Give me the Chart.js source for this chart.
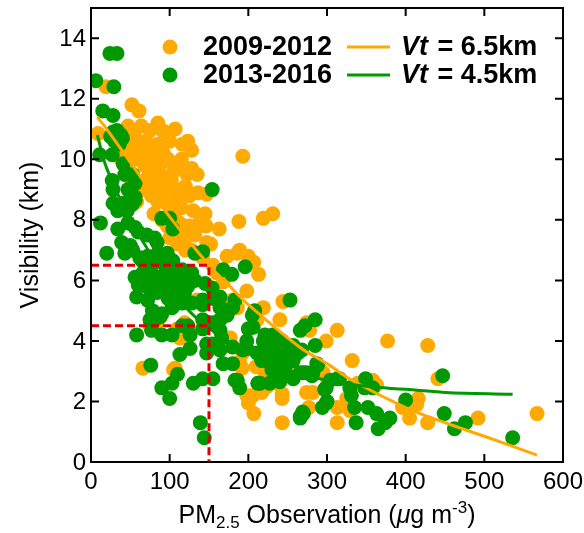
<!DOCTYPE html>
<html>
<head>
<meta charset="utf-8">
<script src="https://cdn.jsdelivr.net/npm/chart.js@4.4.0/dist/chart.umd.min.js"></script>
<style>
  body { margin: 0; background: #fff; }
  #wrap { width: 584px; height: 533px; }
</style>
</head>
<body>
<div id="wrap"><canvas id="chart" width="584" height="533"></canvas></div>
<script>
// 2009-2012 observations (PM2.5, visibility)
const pmOld = [9, 19, 52, 61, 47, 75, 91, 116, 123, 128, 110, 122, 193, 136, 147, 145, 146, 163, 188, 219,
  231, 147, 152, 189, 142, 110, 119, 128, 173, 186, 200, 207, 213, 155, 160, 168, 198, 180, 186, 219,
  244, 240, 211, 177, 180, 193, 189, 192, 210, 220, 198, 206, 200, 207, 217, 243, 243, 243, 224, 236,
  257, 274, 282, 277, 274, 278, 299, 313, 377, 428, 332, 291, 295, 301, 339, 358, 363, 325, 313, 329,
  313, 396, 405, 416, 414, 441, 428, 492, 567, 66, 107, 113, 113, 135, 104, 75, 84, 110, 119, 117, 105,
  40, 48, 55, 62, 70, 78, 85, 92, 60, 68, 75, 82, 90, 98, 105, 72, 80, 88, 95, 102,
  110, 65, 77, 85, 92, 100, 108, 115, 120, 125, 130, 80, 90, 97, 105, 112, 118, 125, 132, 138,
  100, 110, 120, 45, 52, 58, 50, 38, 135, 128, 115, 100, 107, 64, 85];
const visOld = [10.85, 12.4, 11.8, 11.6, 11.1, 10.95, 10.95, 10.5, 10.6, 10.3, 9.85, 9.5, 10.1, 8.9, 8.85, 8.2, 7.8, 7.7, 7.95, 8.05,
  8.2, 7.25, 7.2, 7.0, 6.75, 7.4, 7.1, 7.0, 6.8, 6.9, 6.8, 6.6, 6.2, 6.5, 6.25, 5.95, 5.65, 5.35, 5.1, 5.1,
  5.3, 4.7, 4.7, 4.1, 3.8, 3.6, 3.3, 3.1, 3.15, 3.0, 2.2, 2.2, 1.95, 1.6, 2.3, 2.25, 2.1, 1.3, 2.5, 2.6,
  3.05, 2.3, 2.3, 1.8, 4.6, 4.35, 4.0, 4.35, 4.0, 3.85, 3.35, 3.05, 2.95, 2.7, 2.6, 2.7, 2.55, 2.1, 1.8, 1.7,
  1.3, 1.8, 1.45, 2.1, 1.9, 2.75, 1.3, 1.45, 1.6, 3.1, 3.1, 4.3, 4.1, 5.35, 5.5, 4.5, 4.6, 4.4, 4.6, 4.25, 3.05,
  10.7, 10.5, 10.8, 10.4, 10.6, 10.3, 10.5, 10.2, 10.0, 9.8, 10.1, 9.7, 9.9, 10.0, 9.6, 9.4, 9.2, 9.5, 9.1, 9.3,
  9.0, 9.0, 8.8, 8.6, 8.9, 8.5, 8.7, 8.4, 9.1, 8.8, 8.3, 8.2, 8.0, 7.8, 8.1, 7.9, 7.6, 7.8, 7.5, 7.9,
  7.4, 7.2, 7.0, 9.6, 9.2, 8.6, 10.2, 10.0, 9.5, 9.7, 10.0, 10.6, 11.0, 11.1, 11.2];

// 2013-2016 observations
const pmNew = [24, 33, 6, 29, 15, 28, 28, 33, 38, 30, 36, 40, 25, 11, 27, 41, 53, 56, 27, 43, 154,
  28, 47, 56, 28, 34, 46, 52, 41, 56, 12, 34, 47, 56, 90, 100, 104, 60, 71, 81, 84, 39, 50, 20,
  43, 53, 62, 72, 85, 97, 104, 65, 78, 90, 103, 116, 128, 132, 142, 56, 66, 78, 88, 98, 109, 119, 132,
  60, 71, 79, 94, 103, 116, 123, 58, 72, 84, 98, 107, 119, 78, 90, 103, 116, 128,
  58, 75, 88, 77, 90, 103, 123, 126, 116, 142, 81, 113, 126, 76, 110, 103, 90, 100, 130, 142, 155,
  139, 144, 147, 154, 145, 154, 142, 142, 142, 164, 164, 173, 180, 183, 155, 168, 179, 196,
  164, 166, 155, 164, 173, 155, 168, 180, 147, 164, 180, 183, 189, 198, 200, 206, 208, 205, 253,
  215, 227, 240, 236, 249, 257, 263, 266, 269, 274, 281, 287, 285, 266, 272, 285, 297, 300, 294,
  224, 231, 240, 221, 219, 243, 236, 215, 224, 231, 198, 193, 249, 257, 268, 211, 217, 227, 240, 249,
  230, 238, 246, 266, 282, 288, 304, 313, 186, 212, 316, 349, 329, 348, 358, 331, 299, 400, 447,
  299, 335, 352, 363, 449, 462, 476, 337, 365, 374, 380, 270, 266, 536, 257, 270];
const visNew = [13.5, 13.5, 12.6, 12.4, 11.6, 11.45, 10.9, 10.95, 10.8, 10.6, 10.5, 10.7, 10.75, 10.15, 10.15, 9.85, 9.5, 9.2, 9.3, 9.5, 9.0,
  9.0, 9.0, 8.75, 8.55, 8.3, 8.3, 8.5, 8.55, 8.65, 7.9, 7.7, 7.9, 7.75, 8.05, 8.05, 7.7, 7.6, 7.5, 7.4, 7.25, 7.25, 7.15, 6.9,
  6.9, 7.0, 6.75, 6.8, 6.9, 6.9, 6.65, 6.65, 6.55, 6.65, 6.45, 6.35, 6.25, 6.9, 6.95, 6.1, 6.25, 6.2, 6.1, 6.35, 6.05, 6.2, 6.0,
  5.85, 5.8, 5.9, 5.85, 6.0, 5.9, 5.8, 5.45, 5.35, 5.6, 5.4, 5.6, 5.6, 5.0, 4.9, 5.1, 5.25, 5.25,
  4.2, 4.7, 4.8, 4.35, 4.2, 4.2, 4.5, 4.2, 4.5, 4.4, 4.7, 3.55, 3.75, 3.2, 2.9, 2.6, 2.45, 2.1, 2.6, 2.75, 2.75,
  1.3, 0.8, 3.6, 3.9, 5.9, 5.75, 5.35, 5.2, 4.7, 5.45, 5.1, 5.0, 5.1, 5.35, 5.4, 6.35, 6.2, 6.45,
  4.35, 4.1, 4.6, 4.7, 4.85, 3.8, 3.25, 3.25, 3.9, 3.7, 3.8, 2.7, 2.45, 4.0, 4.4, 4.45, 5.0, 4.85, 5.35,
  2.6, 2.6, 2.65, 3.05, 3.25, 3.35, 3.6, 1.5, 1.65, 2.95, 2.85, 3.25, 3.85, 4.35, 4.5, 4.7, 2.4, 2.0, 1.8,
  4.0, 4.2, 4.0, 4.2, 4.0, 4.0, 3.7, 3.6, 3.55, 3.35, 3.75, 3.7, 3.8, 3.85, 3.7, 3.6, 3.35, 3.3, 3.35, 3.45,
  3.05, 2.8, 2.95, 2.95, 2.95, 3.2, 2.7, 2.75, 2.7, 2.6, 2.75, 2.75, 2.45, 2.45, 2.45, 2.2, 2.45, 2.05, 2.85,
  1.95, 1.8, 1.8, 1.6, 1.6, 1.1, 1.3, 1.3, 1.1, 1.3, 1.45, 1.6, 1.45, 0.8, 2.75, 2.95];

// fitted curves
const fitOldX = [8, 20, 50, 100, 150, 173, 200, 265, 300, 335, 400, 450, 500, 567];
const fitOldY = [11.4, 11.0, 9.9, 8.1, 6.5, 5.9, 5.2, 3.8, 3.25, 2.65, 1.8, 1.3, 0.85, 0.23];
const fitNewX = [8, 20, 50, 80, 100, 121, 151, 193, 249, 300, 350, 400, 450, 536];
const fitNewY = [10.8, 9.7, 8.0, 6.7, 5.9, 5.1, 4.4, 3.7, 3.05, 2.7, 2.5, 2.4, 2.3, 2.24];

// thresholds (red dashes)
const pmLimit = 150;
const vtOld = 6.5;
const vtNew = 4.5;

// axis ticks
const xTicks = [0, 100, 200, 300, 400, 500, 600];
const yTicks = [0, 2, 4, 6, 8, 10, 12, 14];

const ORANGE = '#ffaa00';
const GREEN = '#009900';
const RED = '#dd0000';
const FONT = '"Liberation Sans", Arial, Helvetica, sans-serif';

const pts = (xs, ys) => xs.map((x, i) => ({ x: x, y: ys[i] }));

// frame, inward ticks, tick labels, axis titles and legend
const decor = {
  id: 'decor',
  afterDraw(chart) {
    const c = chart.ctx;
    const a = chart.chartArea;
    const sx = chart.scales.x, sy = chart.scales.y;
    c.save();
    c.strokeStyle = '#000';
    c.lineWidth = 2;
    c.strokeRect(a.left, a.top, a.right - a.left, a.bottom - a.top);
    c.beginPath();
    xTicks.forEach(v => {
      const p = sx.getPixelForValue(v);
      c.moveTo(p, a.bottom); c.lineTo(p, a.bottom - 8);
      c.moveTo(p, a.top); c.lineTo(p, a.top + 8);
    });
    yTicks.forEach(v => {
      const p = sy.getPixelForValue(v);
      c.moveTo(a.left, p); c.lineTo(a.left + 8, p);
      c.moveTo(a.right, p); c.lineTo(a.right - 8, p);
    });
    c.stroke();

    // tick labels
    c.fillStyle = '#000';
    c.font = '24px ' + FONT;
    c.textBaseline = 'middle';
    c.textAlign = 'center';
    xTicks.forEach(v => c.fillText(String(v), sx.getPixelForValue(v), a.bottom + 20));
    c.textAlign = 'right';
    yTicks.forEach(v => c.fillText(String(v), a.left - 5, sy.getPixelForValue(v) + 1));

    // x title: PM2.5 Observation (μg m-3)
    c.textBaseline = 'alphabetic';
    const big = '25px ' + FONT, small = '17px ' + FONT, ital = 'italic 25px ' + FONT;
    const parts = [
      ['PM', big, 0], ['2.5', small, 5], [' Observation (', big, 0],
      ['\u03bc', ital, 0], ['g m', big, 0], ['-3', small, -10], [')', big, 0]
    ];
    let total = 0;
    parts.forEach(p => { c.font = p[1]; total += c.measureText(p[0]).width; });
    let x = (a.left + a.right) / 2 - total / 2;
    const base = 523;
    c.textAlign = 'left';
    parts.forEach(p => {
      c.font = p[1];
      c.fillText(p[0], x, base + p[2]);
      x += c.measureText(p[0]).width;
    });

    // y title
    c.save();
    c.translate(31, (a.top + a.bottom) / 2);
    c.rotate(-Math.PI / 2);
    c.font = big;
    c.textAlign = 'center';
    c.textBaseline = 'middle';
    c.fillText('Visibility (km)', 0, 0);
    c.restore();

    // legend
    const rows = [
      { color: ORANGE, label: '2009-2012', vt: ' = 6.5km', y: 47 },
      { color: GREEN, label: '2013-2016', vt: ' = 4.5km', y: 75 }
    ];
    c.textBaseline = 'middle';
    c.textAlign = 'left';
    rows.forEach(r => {
      c.fillStyle = r.color;
      c.beginPath();
      c.arc(170, r.y, 7.5, 0, Math.PI * 2);
      c.fill();
      c.strokeStyle = r.color;
      c.lineWidth = 3;
      c.beginPath();
      c.moveTo(347, r.y); c.lineTo(390, r.y);
      c.stroke();
      c.fillStyle = '#000';
      c.font = 'bold 27px ' + FONT;
      c.fillText(r.label, 203, r.y + 1);
      c.font = 'italic bold 27px ' + FONT;
      c.fillText('Vt', 401, r.y + 1);
      const w = c.measureText('Vt').width;
      c.font = 'bold 27px ' + FONT;
      c.fillText(r.vt, 403 + w, r.y + 1);
    });
    c.restore();
  }
};

new Chart(document.getElementById('chart').getContext('2d'), {
  type: 'scatter',
  data: {
    datasets: [
      {
        data: [{ x: 0, y: vtOld }, { x: pmLimit, y: vtOld }, { x: pmLimit, y: 0 }],
        showLine: true, borderColor: RED, borderWidth: 3, borderDash: [8, 4],
        pointRadius: 0, order: 0
      },
      {
        data: [{ x: 0, y: vtNew }, { x: pmLimit, y: vtNew }],
        showLine: true, borderColor: RED, borderWidth: 3, borderDash: [8, 4],
        pointRadius: 0, order: 0
      },
      {
        data: pts(fitNewX, fitNewY), showLine: true, tension: 0.4,
        borderColor: GREEN, borderWidth: 3, pointRadius: 0, order: 1
      },
      {
        data: pts(fitOldX, fitOldY), showLine: true, tension: 0.4,
        borderColor: ORANGE, borderWidth: 3, pointRadius: 0, order: 2
      },
      {
        data: pts(pmNew, visNew), backgroundColor: GREEN, borderWidth: 0,
        pointRadius: 7.5, order: 3
      },
      {
        data: pts(pmOld, visOld), backgroundColor: ORANGE, borderWidth: 0,
        pointRadius: 7.5, order: 4
      }
    ]
  },
  options: {
    responsive: false,
    animation: false,
    layout: { padding: { top: 8, right: 21, left: 0, bottom: 0 } },
    plugins: { legend: { display: false }, tooltip: { enabled: false } },
    scales: {
      x: {
        type: 'linear', min: 0, max: 600,
        grid: { display: false, drawTicks: false },
        border: { display: false },
        ticks: { display: false, stepSize: 100 },
        afterFit(s) { s.height = 71; }
      },
      y: {
        type: 'linear', min: 0, max: 15,
        grid: { display: false, drawTicks: false },
        border: { display: false },
        ticks: { display: false, stepSize: 2 },
        afterFit(s) { s.width = 91; }
      }
    }
  },
  plugins: [decor]
});
</script>
</body>
</html>
